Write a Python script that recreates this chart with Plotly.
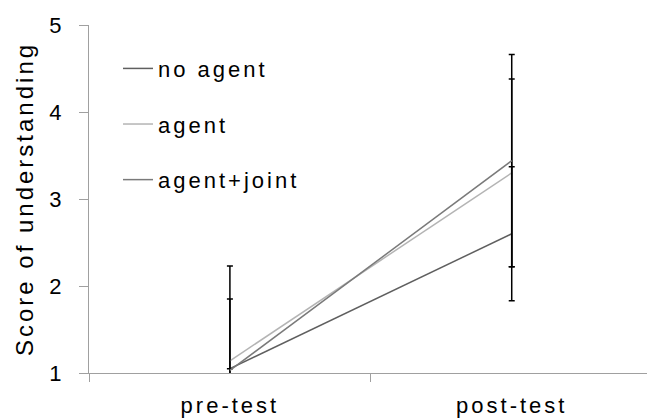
import plotly.graph_objects as go

categories = ["pre-test", "post-test"]
series_names = ["no agent", "agent", "agent+joint"]
no_agent = [1.05, 2.60]
agent = [1.14, 3.30]
agent_joint = [1.03, 3.44]
no_agent_err = [0.0, 0.77]
agent_err = [0.71, 1.08]
agent_joint_err = [1.20, 1.22]
y_ticks = [1, 2, 3, 4, 5]

colors = ["#5f5f5f", "#b4b4b4", "#7a7a7a"]
xpos = list(range(len(categories)))

fig = go.Figure()
for i, (name, vals, errs) in enumerate(zip(series_names, [no_agent, agent, agent_joint],
                                            [no_agent_err, agent_err, agent_joint_err])):
    fig.add_trace(go.Scatter(
        x=xpos, y=vals, name=name, mode="lines",
        line=dict(color=colors[i], width=1.5),
        error_y=dict(type="data", array=errs, visible=True, color="black",
                     thickness=1.5, width=3),
        legendgroup=name,
    ))

fig.update_layout(
    width=647, height=419,
    margin=dict(l=89, r=0, t=25, b=46),
    paper_bgcolor="white", plot_bgcolor="white",
    font=dict(family="Liberation Sans, Arial, sans-serif", size=22, color="black"),
    showlegend=True,
    legend=dict(x=0.052, y=0.935, xanchor="left", yanchor="top",
                bgcolor="rgba(0,0,0,0)", tracegroupgap=24,
                font=dict(size=22), itemwidth=30),
    xaxis=dict(range=[-0.5, 1.48], tickvals=xpos, ticktext=categories,
               ticks="", showline=True, linecolor="#a0a0a0", linewidth=1,
               showgrid=False, zeroline=False, automargin=False,
               minor=dict(tick0=-0.5, dtick=1, ticks="outside", ticklen=8,
                          tickcolor="#a0a0a0", showgrid=False),
               ticklabelstandoff=13),
    yaxis=dict(range=[1, 5], tickvals=y_ticks, ticks="outside", ticklen=9,
               tickcolor="#a0a0a0", showline=True, linecolor="#a0a0a0",
               linewidth=1, showgrid=False, zeroline=False, automargin=False,
               title=dict(text="Score of understanding", standoff=11,
                          font=dict(size=24)),
               ticklabelstandoff=10),
)

post = """
document.body.style.margin = '0';
document.querySelectorAll('.main-svg text').forEach(function(t){
  t.style.letterSpacing = '3px';
});
document.querySelectorAll('.legend .scrollbox').forEach(function(e){
  e.removeAttribute('clip-path');
});
document.querySelectorAll('.legend').forEach(function(e){
  e.style.overflow = 'visible';
});
"""
fig.write_html("out.html", post_script=post, config={"displayModeBar": False})
